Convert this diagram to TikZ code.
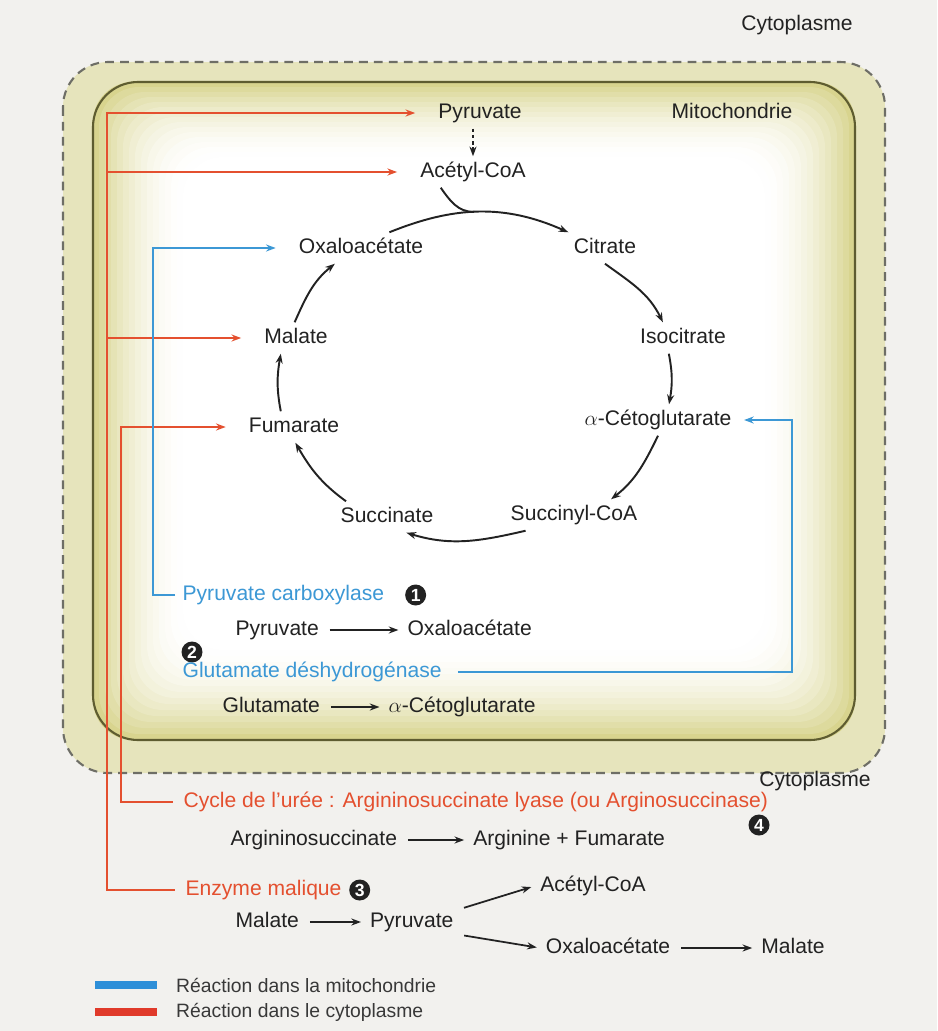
\documentclass[tikz,border=0pt]{standalone}
\usepackage{fontspec}
\setmainfont{Liberation Sans}
\usetikzlibrary{arrows.meta,calc,positioning}

\definecolor{pagebg}{HTML}{F2F1EE}
\definecolor{cytofill}{HTML}{E6E4BC}
\definecolor{cytoedge}{HTML}{6E6E66}
\definecolor{mitofill}{HTML}{D8D48E}
\definecolor{mitoedge}{HTML}{5E5C30}
\definecolor{cytored}{HTML}{E4502F}
\definecolor{mitoblue}{HTML}{3C98D5}
\definecolor{legblue}{HTML}{2E8FD8}
\definecolor{legred}{HTML}{E03A2A}
\definecolor{ink}{HTML}{222222}

\newcommand{\bodyfont}{\fontsize{12}{14}\selectfont}

\tikzset{
  met/.style={font=\bodyfont, text=ink, inner sep=3pt, text height=9pt, text depth=2.5pt},
  enzred/.style={met, text=cytored},
  enzblue/.style={met, text=mitoblue},
  num/.style={circle, fill=ink, text=white, inner sep=0pt, minimum size=0.42cm, font=\bfseries\fontsize{10}{10}\selectfont},
  cyc/.style={->, draw=ink, line width=1.1pt},
  react/.style={->, draw=ink, line width=1pt, shorten <=3pt, shorten >=2pt},
  redline/.style={->, draw=cytored, line width=1pt, shorten >=10pt},
  blueline/.style={->, draw=mitoblue, line width=1pt, shorten >=10pt},
  keybar/.style={inner sep=0pt, minimum width=1.24cm, minimum height=0.16cm},
  keytext/.style={font=\fontsize{11}{13}\selectfont, text=ink!90, inner sep=2pt},
}

\begin{document}
\begin{tikzpicture}[x=0.02cm, y=-0.02cm, >={Stealth[length=5.5pt,width=4pt]}]
  \path[use as bounding box, fill=pagebg] (0,0) rectangle (937,1031);

  % cytoplasm and mitochondrion
  \draw[cytoedge, fill=cytofill, line width=1.2pt, dash pattern=on 5pt off 3.5pt, rounded corners=0.9cm] (63,62) rectangle (885,773);
  \foreach \i [evaluate=\i as \p using int(100*(1-\i/16)^2)] in {0,...,16}
    \fill[mitofill!\p!white, rounded corners=0.8cm] ({93+6*\i},{82+5*\i}) rectangle ({855-6*\i},{740-6*\i});
  \draw[mitoedge, line width=1.2pt, rounded corners=0.9cm] (93,82) rectangle (855,740);

  \node[met] (cyttop) at (797,25) {Cytoplasme};
  \node[met] (mito) at (732,113) {Mitochondrie};
  \node[met] (cytbot) at (815,781) {Cytoplasme};

  % Krebs cycle
  \node[met] (pyr) at (480,113) {Pyruvate};
  \node[met] (acetyl) at (473,172) {Acétyl-CoA};
  \node[met] (oxa) at (361,248) {Oxaloacétate};
  \node[met] (cit) at (605,248) {Citrate};
  \node[met] (iso) at (683,338) {Isocitrate};
  \node[met] (akg) at (658,420) {$\alpha$-Cétoglutarate};
  \node[met] (sca) at (574,515) {Succinyl-CoA};
  \node[met] (suc) at (387,517) {Succinate};
  \node[met] (fum) at (294,427) {Fumarate};
  \node[met] (mal) at (296,338) {Malate};

  \draw[->, ink, line width=1pt, dash pattern=on 2pt off 1.5pt] (pyr.south -| acetyl) -- (acetyl.north);
  \draw[cyc] (oxa.29) to[out=22,in=156] coordinate[pos=0.47] (cj) (cit.north west);
  \draw[ink, line width=1.1pt] (acetyl.-154) to[out=-55,in=180] (cj);
  \draw[cyc] (cit.south) to[out=-36,in=116] (iso.142);
  \draw[cyc] (iso.-132) to[out=-79,in=80] (akg.55);
  \draw[cyc] (akg.south) to[out=-116,in=38] (sca.23);
  \draw[cyc] (sca.-162) to[out=193,in=-17] (suc.-39);
  \draw[cyc] (suc.159) to[out=144,in=-60] (fum.-85);
  \draw[cyc] (fum.130) to[out=101,in=-100] (mal.-134);
  \draw[cyc] (mal.95) to[out=66,in=-141] (oxa.-149);

  % enzymes and reactions
  \node[enzblue, anchor=west] (pc) at (177,595) {Pyruvate carboxylase};
  \node[num, right=0.3cm of pc] (n1) {1};
  \node[met, anchor=west] (pcs) at (230,630) {Pyruvate};
  \node[met, right=1.55cm of pcs] (pcp) {Oxaloacétate};
  \node[num] (n2) at (192,652) {2};
  \node[enzblue, anchor=west] (gdh) at (177,672) {Glutamate déshydrogénase};
  \node[met, anchor=west] (gds) at (217,707) {Glutamate};
  \node[met, right=1.15cm of gds] (gdp) {$\alpha$-Cétoglutarate};
  \node[enzred, anchor=west] (ure) at (178,802) {Cycle de l'urée : Argininosuccinate lyase (ou Arginosuccinase)};
  \node[num] (n4) at (759,825) {4};
  \node[met, anchor=west] (ass) at (225,840) {Argininosuccinate};
  \node[met, right=1.3cm of ass] (asp) {Arginine + Fumarate};
  \node[enzred, anchor=west] (enz) at (180,890) {Enzyme malique};
  \node[num, right=1pt of enz] (n3) {3};
  \node[met, anchor=west] (mes) at (230,922) {Malate};
  \node[met, right=1.2cm of mes] (mep) {Pyruvate};
  \node[met] (mea) at (593,886) {Acétyl-CoA};
  \node[met] (meo) at (608,948) {Oxaloacétate};
  \node[met, right=1.6cm of meo] (mem) {Malate};

  \draw[react] (pcs) -- (pcp);
  \draw[react] (gds) -- (gdp);
  \draw[react] (ass) -- (asp);
  \draw[react] (mes) -- (mep);
  \draw[react] (mep.15) -- (mea.west);
  \draw[react] (mep.-15) -- (meo.west);
  \draw[react] (meo) -- (mem);

  % red and blue links
  \coordinate (rA) at (107,0);
  \coordinate (rB) at (121,0);
  \coordinate (bA) at (153,0);
  \coordinate (bB) at (792,0);
  \draw[redline, shorten <=3pt] (enz.west) -- (enz.west -| rA) -- (pyr.west -| rA) -- (pyr.west);
  \draw[redline] (acetyl.west -| rA) -- (acetyl.west);
  \draw[redline] (mal.west -| rA) -- (mal.west);
  \draw[redline, shorten <=3pt] (ure.west) -- (ure.west -| rB) -- (fum.west -| rB) -- (fum.west);
  \draw[blueline, shorten <=1pt] (pc.west) -- (pc.west -| bA) -- (oxa.west -| bA) -- (oxa.west);
  \draw[blueline, shorten <=6pt, shorten >=4pt] (gdh.east) -- (gdh.east -| bB) -- (akg.east -| bB) -- (akg.east);

  % legend
  \node[keybar, fill=legblue] (keyb) at (126,985) {};
  \node[keytext, right=0.3cm of keyb] (keybt) {Réaction dans la mitochondrie};
  \node[keybar, fill=legred] (keyr) at (126,1012) {};
  \node[keytext, right=0.3cm of keyr] (keyrt) {Réaction dans le cytoplasme};
\end{tikzpicture}
\end{document}
